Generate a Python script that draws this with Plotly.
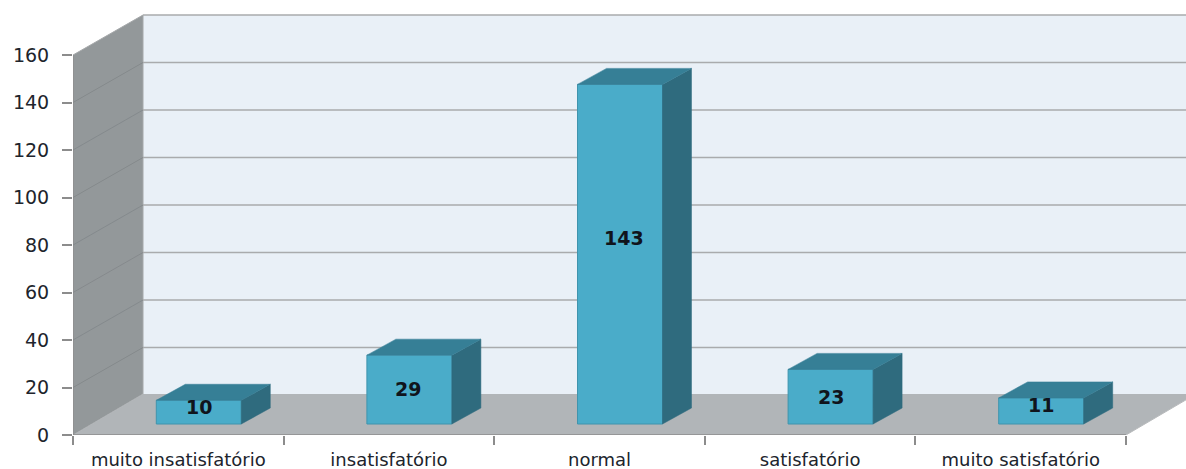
import plotly.graph_objects as go

categories = ["muito insatisfatório", "insatisfatório", "normal", "satisfatório", "muito satisfatório"]
values = [10, 29, 143, 23, 11]
y_ticks = [0, 20, 40, 60, 80, 100, 120, 140, 160]

# pixel scale of the chart's front plane
PX_X = 210.6
PX_Y = 2.375
W, H = 1186, 469
ML, MB = 73, 34

# depth of wall/floor and bars, floor lift, bar size, in axis units
WALL_DX, WALL_DY = 70 / PX_X, 40 / PX_Y
FLOOR_DY = 41 / PX_Y
BAR_DX, BAR_DY = 29 / PX_X, 16 / PX_Y
BAR_W = 85 / PX_X
BAR_SHIFT = 20.5 / PX_X
BASE = 11 / PX_Y

x_lo = -0.5
x_hi_axis = len(categories) - 0.5
x_hi = x_lo + (W - ML) / PX_X
y_hi = (H - MB) / PX_Y
y_top = max(y_ticks)

FRONT, TOP, SIDE = "#4aacc9", "#367f96", "#2f6b7e"
BACK, WALL, FLOOR = "#e9f0f7", "#93989a", "#b1b5b8"
GRID, GRID_W, AXIS = "#a9abad", "#858a8c", "#8c8c8c"
TEXT = "#20242c"
FONT = "DejaVu Sans"


def poly(pts):
    return "M " + " L ".join(f"{a},{b}" for a, b in pts) + " Z"


shapes = [
    dict(type="path", layer="below", line_width=0, fillcolor=BACK,
         path=poly([(x_lo + WALL_DX, WALL_DY), (x_hi + 1, WALL_DY),
                    (x_hi + 1, y_top + WALL_DY), (x_lo + WALL_DX, y_top + WALL_DY)])),
    dict(type="path", layer="below", line=dict(color="#a5a8aa", width=1), fillcolor=WALL,
         path=poly([(x_lo, 0), (x_lo + WALL_DX, FLOOR_DY),
                    (x_lo + WALL_DX, y_top + WALL_DY), (x_lo, y_top)])),
    dict(type="path", layer="below", line_width=0, fillcolor=FLOOR,
         path=poly([(x_lo, 0), (x_lo + WALL_DX, FLOOR_DY),
                    (x_hi_axis + WALL_DX, FLOOR_DY), (x_hi_axis, 0)])),
    dict(type="line", layer="below", x0=x_lo, x1=x_hi_axis, y0=0, y1=0,
         line=dict(color=AXIS, width=1.5)),
    dict(type="line", layer="below", x0=x_hi_axis, x1=x_hi_axis + WALL_DX, y0=0, y1=FLOOR_DY,
         line=dict(color="#b8babc", width=1)),
    dict(type="line", layer="below", x0=x_lo, x1=x_lo, y0=0, y1=y_top,
         line=dict(color=AXIS, width=1.5)),
]
for t in y_ticks[1:]:
    shapes.append(dict(type="line", layer="below", x0=x_lo + WALL_DX, x1=x_hi + 1,
                       y0=t + WALL_DY, y1=t + WALL_DY, line=dict(color=GRID, width=1.6)))
    if t < y_top:
        shapes.append(dict(type="line", layer="below", x0=x_lo, x1=x_lo + WALL_DX,
                           y0=t, y1=t + WALL_DY, line=dict(color=GRID_W, width=1)))

xs = [i + BAR_SHIFT for i in range(len(categories))]

fig = go.Figure()
fig.add_trace(go.Bar(
    x=xs, y=values, base=[BASE] * len(values), width=BAR_W,
    marker=dict(color=FRONT, line=dict(color="#3f94ad", width=1)),
    hoverinfo="skip", showlegend=False,
))
for x, v in zip(xs, values):
    xl, xr = x - BAR_W / 2, x + BAR_W / 2
    yt = BASE + v
    side = [(xr, BASE), (xr + BAR_DX, BASE + BAR_DY), (xr + BAR_DX, yt + BAR_DY), (xr, yt), (xr, BASE)]
    top = [(xl, yt), (xl + BAR_DX, yt + BAR_DY), (xr + BAR_DX, yt + BAR_DY), (xr, yt), (xl, yt)]
    for pts, col in ((side, SIDE), (top, TOP)):
        fig.add_trace(go.Scatter(
            x=[p[0] for p in pts], y=[p[1] for p in pts], mode="lines", fill="toself",
            fillcolor=col, line=dict(color=col, width=0.5), hoverinfo="skip", showlegend=False,
        ))

# nudges of the data labels, in pixels: value -> (right, up)
label_nudge = {10: (0, 5), 29: (-1, 1), 143: (4, 16), 23: (0, 0), 11: (0, 6)}
annotations = [
    dict(x=x, y=BASE + v / 2, text=f"<b>{v}</b>", showarrow=False, xshift=label_nudge[v][0],
         yshift=label_nudge[v][1], font=dict(family=FONT, size=19, color="#10141c"))
    for x, v in zip(xs, values)
]

fig.update_layout(
    width=W, height=H, margin=dict(l=ML, r=0, t=0, b=MB, pad=0),
    paper_bgcolor="white", plot_bgcolor="white",
    font=dict(family=FONT, size=19, color=TEXT),
    shapes=shapes, annotations=annotations, showlegend=False,
    xaxis=dict(
        automargin=False,
        range=[x_lo, x_hi], showgrid=False, zeroline=False, showline=False,
        tickmode="array", tickvals=list(range(len(categories))), ticktext=categories,
        ticks="outside", ticklen=8, tickcolor="rgba(0,0,0,0)", tickangle=0,
        tickfont=dict(size=18),
        minor=dict(tickmode="array",
                   tickvals=[i - 0.5 for i in range(len(categories) + 1)],
                   ticks="outside", ticklen=9, tickcolor=AXIS, tickwidth=1.5, showgrid=False),
    ),
    yaxis=dict(
        automargin=False,
        range=[0, y_hi], showgrid=False, zeroline=False, showline=False,
        tickmode="array", tickvals=y_ticks, ticks="outside", ticklen=10,
        tickcolor=AXIS, tickwidth=1.5, ticklabelstandoff=9,
    ),
)
fig.write_html("out.html", config=dict(displayModeBar=False),
               post_script="document.body.style.margin='0';document.body.style.overflow='hidden';")
